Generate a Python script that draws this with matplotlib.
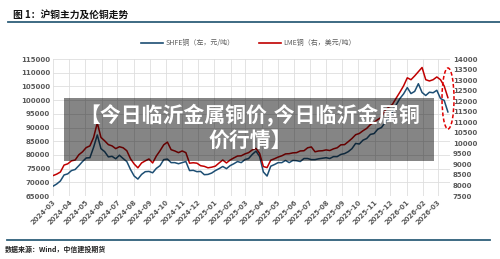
import numpy as np
import pandas as pd
import matplotlib
matplotlib.use("Agg")
import matplotlib.pyplot as plt
import matplotlib.dates as mdates
from matplotlib.lines import Line2D
from matplotlib.patches import Ellipse, Rectangle

plt.rcParams['font.family'] = ['Noto Sans CJK SC', 'DejaVu Sans']

# fechas semanales
fechas = pd.date_range("2024-03-01", periods=108, freq="7D")

# SHFE铜 (元/吨), eje izquierdo
shfe = [68600, 69400, 70500, 72700, 73100, 74300, 74700, 76100, 77600, 78900,
        79000, 82800, 87300, 82300, 81200, 79300, 79500, 78600, 79900, 78700,
        77600, 74700, 72300, 71200, 72900, 73900, 74000, 73500, 75100, 76100,
        78300, 78500, 77200, 77200, 76800, 77200, 77600, 74300, 74400, 73900,
        74000, 72800, 72900, 73400, 74300, 75000, 75800, 75000, 76100, 76800,
        77600, 77200, 78300, 78700, 80200, 81400, 79400, 73800, 72300, 75900,
        76500, 77200, 77200, 78000, 77200, 78000, 77900, 77600, 78700, 78700,
        78300, 78300, 78600, 78800, 79000, 78700, 79400, 79400, 80200, 80500,
        81200, 82300, 84200, 84000, 85400, 86000, 87500, 87800, 89400, 90000,
        91900, 93200, 95900, 98300, 100600, 102300, 104600, 102400, 103200, 106000,
        102800, 101700, 102900, 102700, 103600, 100600, 99900, 95700]

# LME铜 (美元/吨), eje derecho
lme = [8470, 8540, 8640, 8970, 9030, 9170, 9210, 9460, 9600, 9800,
       9880, 10280, 10970, 10280, 10120, 9940, 9880, 9750, 9840, 9790,
       9650, 9270, 9020, 8840, 9070, 9170, 9260, 9070, 9400, 9650,
       9930, 10060, 9700, 9640, 9560, 9640, 9560, 9060, 9080, 9060,
       8940, 8910, 8840, 8870, 8920, 9070, 9210, 9070, 9210, 9310,
       9400, 9410, 9500, 9560, 9690, 9760, 9520, 8900, 8850, 9200,
       9270, 9350, 9410, 9500, 9510, 9550, 9560, 9640, 9650, 9790,
       9830, 9600, 9640, 9650, 9690, 9660, 9740, 9790, 9930, 9940,
       10080, 10230, 10410, 10470, 10600, 10710, 10890, 11000, 11130, 11240,
       11570, 11720, 11860, 12150, 12430, 12730, 13110, 13020, 13200, 13400,
       13600, 13020, 12960, 13020, 13150, 13020, 12720, 12170]

yticks_izq = list(range(65000, 115001, 5000))
yticks_der = list(range(7500, 14001, 500))
meses = pd.date_range("2024-03-01", "2026-03-01", freq="MS")

azul = '#1d4e73'
rojo = '#c00000'
gris_txt = '#5a5a5a'

fig = plt.figure(figsize=(5, 2.59), dpi=100)
ax = fig.add_axes([0.106, 0.243, 0.794, 0.529])
ax2 = ax.twinx()

ax.plot(fechas, shfe, color=azul, lw=1.1, zorder=3)
ax2.plot(fechas, lme, color=rojo, lw=1.1, zorder=3)

ax.set_ylim(65000, 115000)
ax2.set_ylim(7500, 14000)
ax.set_yticks(yticks_izq)
ax2.set_yticks(yticks_der)
ax.set_xlim(pd.Timestamp("2024-03-01"), pd.Timestamp("2026-03-24"))
ax.set_xticks(meses)
ax.xaxis.set_major_formatter(mdates.DateFormatter("%Y-%m"))

for a in (ax, ax2):
    for s in a.spines.values():
        s.set_visible(False)
    a.tick_params(length=0, labelsize=5, labelcolor=gris_txt, pad=2)
    for t in a.get_yticklabels():
        t.set_fontweight('bold')
        t.set_family('DejaVu Sans')
for t in ax.get_xticklabels():
    t.set_rotation(45)
    t.set_ha('right')
    t.set_rotation_mode('anchor')
    t.set_fontweight('bold')
    t.set_family('DejaVu Sans')

ax.grid(True, color='#dedede', lw=0.6)
ax.set_axisbelow(True)

# titulo y lineas
fig.text(0.026, 1 - 15/259, "图 1：沪铜主力及伦铜走势", fontsize=7, fontweight='bold',
         va='center', ha='left', color='#111111')
fig.add_artist(Line2D([0.016, 1.0], [1 - 22/259, 1 - 22/259], color='#2e5f7a', lw=1.3))
fig.add_artist(Line2D([0.014, 0.98], [1 - 240/259, 1 - 240/259], color='#2e5f7a', lw=1.3))
fig.text(0.01, 1 - 249/259, "数据来源：Wind，中信建投期货", fontsize=5, fontweight='bold',
         style='italic', va='center', ha='left', color='#222222')

# leyenda
handles = [Line2D([], [], color=azul, lw=1.2), Line2D([], [], color=rojo, lw=1.2)]
fig.legend(handles, ["SHFE铜（左，元/吨）", "LME铜（右，美元/吨）"], loc='center',
           bbox_to_anchor=(0.497, 1 - 43/259), ncol=2, frameon=False, fontsize=5,
           labelcolor=gris_txt, handlelength=3.2, handletextpad=0.3, columnspacing=3.5)

# elipse roja punteada
fig.add_artist(Ellipse((448/500, 1 - 98.5/259), 12/500, 61/259, fill=False,
                       edgecolor='#e00000', lw=1.1, ls=(0, (2.5, 1.5))))

# recuadro gris con texto
fig.add_artist(Rectangle((64/500, 1 - 161/259), 370/500, 63/259, facecolor='black',
                         alpha=0.48, edgecolor='none', zorder=5))
fig.text(250/500, 1 - 127/259, "【今日临沂金属铜价,今日临沂金属铜\n价行情】", fontsize=15,
         fontweight='bold', color='white', ha='center', va='center', linespacing=1.2,
         zorder=6)

fig.savefig("out.png", dpi=100, facecolor='white')
